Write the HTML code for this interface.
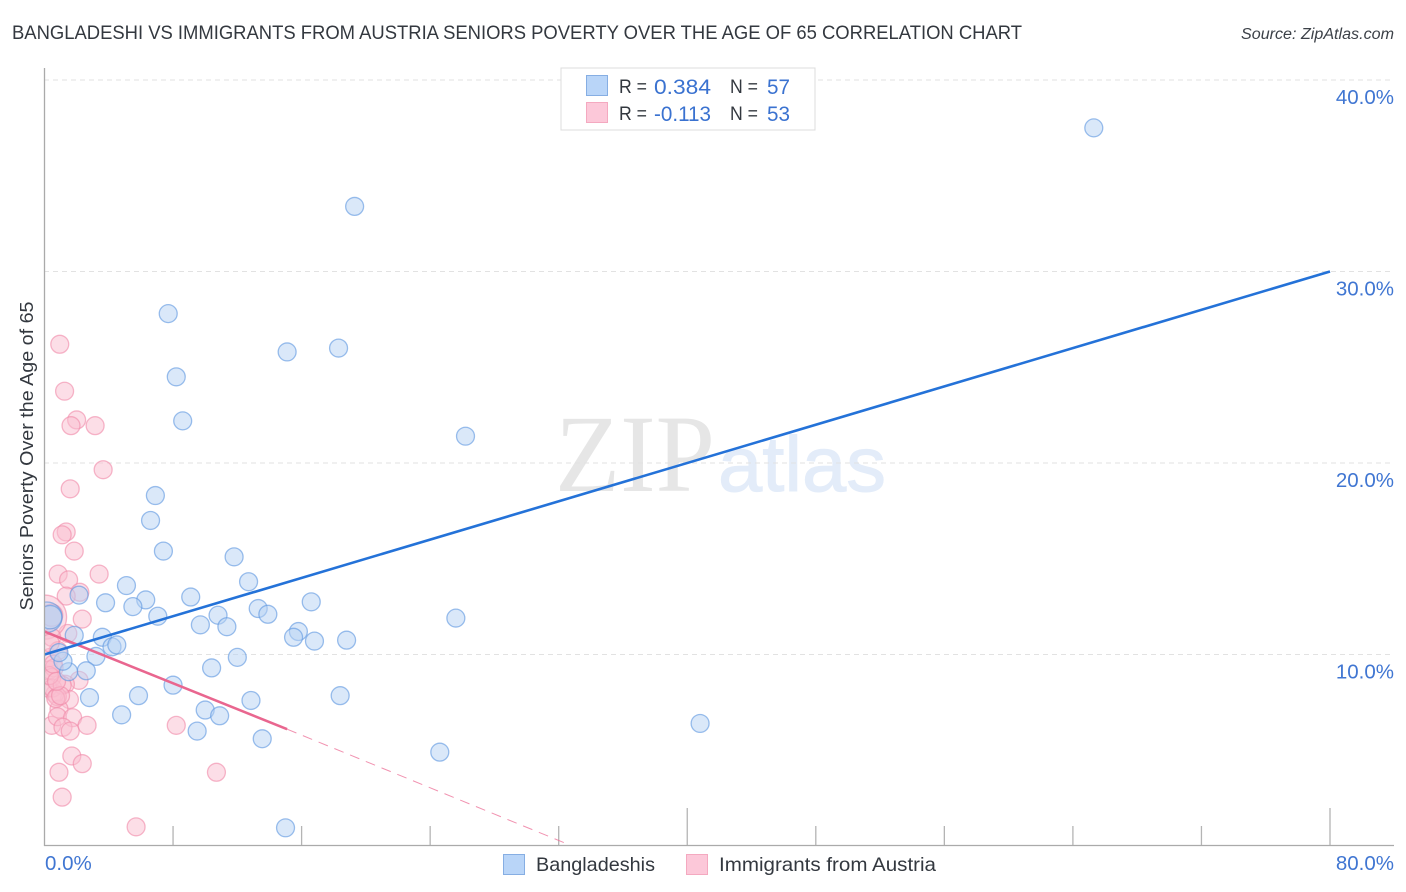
<!DOCTYPE html>
<html lang="en">
<head>
<meta charset="utf-8">
<title>Bangladeshi vs Immigrants from Austria Seniors Poverty Correlation Chart</title>
<style>
html,body{margin:0;padding:0;background:#fff;width:1406px;height:892px;overflow:hidden}
svg{display:block;font-family:"Liberation Sans",sans-serif}
</style>
</head>
<body>
<svg id="chart" xmlns="http://www.w3.org/2000/svg" width="1406" height="892" viewBox="0 0 1406 892">
  <defs>
    <clipPath id="plotClip"><rect x="44.5" y="60" width="1350" height="786"/></clipPath>
  </defs>
  <rect width="1406" height="892" fill="#fff"/>
  <text x="12" y="39" font-size="19.2" fill="#33383f" textLength="1010" lengthAdjust="spacingAndGlyphs">BANGLADESHI VS IMMIGRANTS FROM AUSTRIA SENIORS POVERTY OVER THE AGE OF 65 CORRELATION CHART</text>
  <text x="1241" y="39" font-size="15.5" font-style="italic" fill="#3c4148" textLength="153" lengthAdjust="spacingAndGlyphs">Source: ZipAtlas.com</text>
  <g>
    <text x="555" y="491" font-family="'Liberation Serif',serif" font-size="110" fill="#e6e6e6" textLength="160" lengthAdjust="spacingAndGlyphs">ZIP</text>
    <text x="718" y="491" font-family="'Liberation Sans',sans-serif" font-size="78" fill="#e3ecf9" stroke="#e3ecf9" stroke-width="1" textLength="168" lengthAdjust="spacingAndGlyphs">atlas</text>
  </g>
  <g id="grid"></g>
  <g id="ticks"></g>
  <g id="pinkPoints" clip-path="url(#plotClip)"></g>
  <g id="bluePoints" clip-path="url(#plotClip)"></g>
  <g id="trends"></g>
  <line x1="44.5" y1="68" x2="44.5" y2="846" stroke="#aaa" stroke-width="1.3"/>
  <line x1="44" y1="845.5" x2="1394" y2="845.5" stroke="#aaa" stroke-width="1.3"/>
  <g id="yLabels"></g>
  <g id="xLabels"></g>
  <text transform="translate(33,456) rotate(-90)" font-size="18.6" fill="#33383f" text-anchor="middle" textLength="309" lengthAdjust="spacingAndGlyphs">Seniors Poverty Over the Age of 65</text>

  <g>
    <rect x="561" y="68" width="254" height="62" fill="#fff" stroke="#dcdcdc" stroke-width="1"/>
    <rect x="586.5" y="75.5" width="21" height="20" fill="#b9d5f8" stroke="#86aee3" stroke-width="1"/>
    <rect x="586.5" y="102.5" width="21" height="20" fill="#fcc8d9" stroke="#f4a9c0" stroke-width="1"/>
    <text x="619" y="93" font-size="19.5" fill="#33383f" textLength="28" lengthAdjust="spacingAndGlyphs">R =</text>
    <text x="654" y="94" font-size="21.5" fill="#3a72d0" textLength="57" lengthAdjust="spacingAndGlyphs">0.384</text>
    <text x="730" y="93" font-size="19.5" fill="#33383f" textLength="28" lengthAdjust="spacingAndGlyphs">N =</text>
    <text x="767" y="94" font-size="21.5" fill="#3a72d0" textLength="23" lengthAdjust="spacingAndGlyphs">57</text>
    <text x="619" y="120" font-size="19.5" fill="#33383f" textLength="28" lengthAdjust="spacingAndGlyphs">R =</text>
    <text x="654" y="121" font-size="21.5" fill="#3a72d0" textLength="57" lengthAdjust="spacingAndGlyphs">-0.113</text>
    <text x="730" y="120" font-size="19.5" fill="#33383f" textLength="28" lengthAdjust="spacingAndGlyphs">N =</text>
    <text x="767" y="121" font-size="21.5" fill="#3a72d0" textLength="23" lengthAdjust="spacingAndGlyphs">53</text>
  </g>

  <g>
    <rect x="503.5" y="854.5" width="21" height="20" fill="#b9d5f8" stroke="#86aee3" stroke-width="1"/>
    <text x="536" y="871" font-size="19.5" fill="#33383f" textLength="119" lengthAdjust="spacingAndGlyphs">Bangladeshis</text>
    <rect x="686.5" y="854.5" width="21" height="20" fill="#fcc8d9" stroke="#f4a9c0" stroke-width="1"/>
    <text x="719" y="871" font-size="19.5" fill="#33383f" textLength="217" lengthAdjust="spacingAndGlyphs">Immigrants from Austria</text>
  </g>
</svg>
<script>
const yTickValues = [10, 20, 30, 40];
const yTickLabels = ["10.0%", "20.0%", "30.0%", "40.0%"];
const xTickValues = [0, 8, 16, 24, 32, 40, 48, 56, 64, 72, 80];
const xMajorTicks = [40, 80];
const xEndValues = [0, 80];
const xEndLabels = ["0.0%", "80.0%"];

const blueX = [65.3,19.3,7.7,15.1,18.3,8.2,8.6,26.2,6.9,6.6,7.4,11.8,12.7,5.1,9.1,6.3,3.8,5.5,2.15,13.3,16.6,13.9,7.05,10.8,9.7,11.35,25.6,15.8,15.5,16.8,18.8,1.85,3.6,4.2,4.5,3.2,12.0,10.4,2.6,1.5,1.15,0.9,8.0,2.8,5.85,18.4,12.85,10.0,4.8,10.9,9.5,13.55,40.8,24.6,15.0,0.15,0.35];
const blueY = [37.5,33.4,27.8,25.8,26.0,24.5,22.2,21.4,18.3,17.0,15.4,15.1,13.8,13.6,13.0,12.85,12.7,12.5,13.1,12.4,12.75,12.1,12.0,12.05,11.55,11.45,11.9,11.2,10.9,10.7,10.75,11.0,10.9,10.4,10.5,9.9,9.85,9.3,9.15,9.1,9.65,10.1,8.4,7.75,7.85,7.85,7.6,7.1,6.85,6.8,6.0,5.6,6.4,4.9,0.95,11.95,11.95];
const blueSize = [13,13,13,13,13,13,13,13,13,13,13,13,13,13,13,13,13,13,13,13,13,13,13,13,13,13,13,13,13,13,13,13,13,13,13,13,13,13,13,13,13,13,13,13,13,13,13,13,13,13,13,13,13,13,13,22,17];

const pinkX = [0.95,1.25,2.0,1.65,3.15,3.65,1.6,1.35,1.1,1.85,0.85,3.4,1.5,2.2,1.35,2.35,1.45,0,0.45,0.45,2.15,1.3,1.55,0.65,0.9,0.45,0.8,1.75,1.15,1.6,2.65,8.2,1.7,2.35,0.9,10.7,1.1,5.7,0.35,0.85,0.3,0.6,0.45,0.2,0.5,1.1,0.8,0.7,0.3,0.55,1.0,0.35,0.75];
const pinkY = [26.2,23.75,22.25,21.95,21.95,19.65,18.65,16.4,16.25,15.4,14.2,14.2,13.9,13.25,13.05,11.85,11.1,11.95,12.05,10.9,8.65,8.45,7.65,7.95,7.15,6.3,6.75,6.7,6.2,6.0,6.3,6.3,4.7,4.3,3.85,3.85,2.55,1.0,9.85,10.2,9.2,9.3,8.8,8.25,8.25,8.4,7.8,7.7,8.9,9.5,7.85,10.6,8.6];
const pinkSize = [13,13,13,13,13,13,13,13,13,13,13,13,13,13,13,13,13,32,16,13,13,13,13,13,13,13,13,13,13,13,13,13,13,13,13,13,13,13,13,13,13,13,13,13,13,13,13,13,13,13,13,13,13];

const blueTrendX = [0, 80];
const blueTrendY = [10.0, 30.0];
const pinkSolidX = [0, 15.1];
const pinkSolidY = [11.2, 6.1];
const pinkDashX = [15.1, 32.7];
const pinkDashY = [6.1, 0.05];

const NS = "http://www.w3.org/2000/svg";
function xScale(v){ return 44.5 + v * (1330 - 44.5) / 80; }
function yScale(v){ return 846 - v * (846 - 80) / 40; }
function make(tag, attrs){
  const el = document.createElementNS(NS, tag);
  for (const k in attrs) el.setAttribute(k, attrs[k]);
  return el;
}

const grid = document.getElementById("grid");
yTickValues.forEach(function(v){
  const el = make("line", {x1:44, x2:1394, y1:yScale(v), y2:yScale(v), stroke:"#e2e2e2", "stroke-width":1, "stroke-dasharray":"5 4"});
  
  
  grid.appendChild(el);
});

const ticks = document.getElementById("ticks");
xTickValues.slice(1).forEach(function(v){
  const top = xMajorTicks.indexOf(v) >= 0 ? 808 : 826;
  const el = make("line", {x1:xScale(v), x2:xScale(v), y1:top, y2:846, stroke:"#b4b4b4", "stroke-width":1.3});
  
  
  ticks.appendChild(el);
});

const yLabels = document.getElementById("yLabels");
yTickValues.forEach(function(v, i){
  const el = make("text", {x:1394, y:yScale(v) + 24, "text-anchor":"end", "font-size":20.5, fill:"#4076d2"});
  el.textContent = yTickLabels[i];
  
  
  yLabels.appendChild(el);
});

const xLabels = document.getElementById("xLabels");
xEndValues.forEach(function(v, i){
  const el = make("text", {x: i === 0 ? 45 : 1394, y:870, "text-anchor": i === 0 ? "start" : "end", "font-size":20.5, fill:"#4076d2"});
  el.textContent = xEndLabels[i];
  
  
  xLabels.appendChild(el);
});

function drawPoints(groupId, xs, ys, sizes, fill, stroke){
  const g = document.getElementById(groupId);
  xs.forEach(function(v, i){
    const el = make("circle", {cx:xScale(v), cy:yScale(ys[i]), r:sizes[i] * 0.69, fill:fill, "fill-opacity":0.5, stroke:stroke, "stroke-opacity":0.62, "stroke-width":1.3});
    
    
    g.appendChild(el);
  });
}
drawPoints("pinkPoints", pinkX, pinkY, pinkSize, "#f9bdd0", "#f08aa9");
drawPoints("bluePoints", blueX, blueY, blueSize, "#b5d1f4", "#5f97e0");

const trends = document.getElementById("trends");
const pinkDash = make("line", {x1:xScale(pinkDashX[0]), y1:yScale(pinkDashY[0]), x2:xScale(pinkDashX[1]), y2:yScale(pinkDashY[1]), stroke:"#ec6d96", "stroke-width":1, "stroke-dasharray":"10 7", "stroke-opacity":0.75});


trends.appendChild(pinkDash);
const pinkSolid = make("line", {x1:xScale(pinkSolidX[0]), y1:yScale(pinkSolidY[0]), x2:xScale(pinkSolidX[1]), y2:yScale(pinkSolidY[1]), stroke:"#e9668f", "stroke-width":2.6});


trends.appendChild(pinkSolid);
const blueLine = make("line", {x1:xScale(blueTrendX[0]), y1:yScale(blueTrendY[0]), x2:xScale(blueTrendX[1]), y2:yScale(blueTrendY[1]), stroke:"#2472d8", "stroke-width":2.6});


trends.appendChild(blueLine);
</script>
</body>
</html>
